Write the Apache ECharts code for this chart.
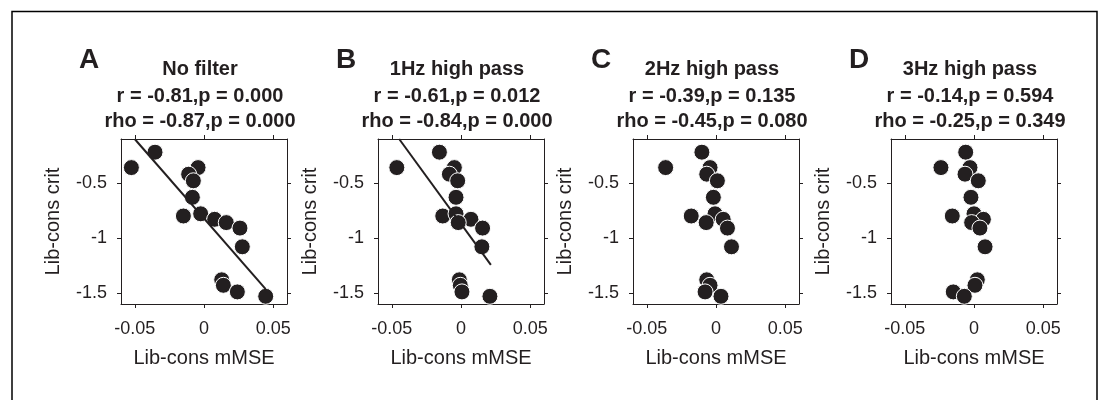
<!DOCTYPE html>
<html>
<head>
<meta charset="utf-8">
<script src="https://cdn.jsdelivr.net/npm/echarts@6/dist/echarts.min.js"></script>
<style>
html,body{margin:0;padding:0;background:#fff;}
#chart{width:1100px;height:400px;}
</style>
</head>
<body>
<div id="chart"></div>
<script>
// ---- data ----
const panelLetters = ['A', 'B', 'C', 'D'];
const panelTitles = ['No filter', '1Hz high pass', '2Hz high pass', '3Hz high pass'];
const rLines = ['r = -0.81,p = 0.000', 'r = -0.61,p = 0.012', 'r = -0.39,p = 0.135', 'r = -0.14,p = 0.594'];
const rhoLines = ['rho = -0.87,p = 0.000', 'rho = -0.84,p = 0.000', 'rho = -0.45,p = 0.080', 'rho = -0.25,p = 0.349'];
const xTicks = [-0.05, 0, 0.05];
const yTicks = [-1.5, -1, -0.5];
const xName = 'Lib-cons mMSE';
const yName = 'Lib-cons crit';

// Lib-cons crit (same subjects in every panel)
const libConsCrit = [-0.22, -0.36, -0.36, -0.42, -0.48, -0.63, -0.80, -0.78, -0.83, -0.86, -0.91, -1.08, -1.38, -1.43, -1.49, -1.53];
// Lib-cons mMSE per filter setting
const mmseNoFilter = [-0.0354, -0.0525, -0.0043, -0.0111, -0.0077, -0.0084, -0.0149, -0.0024, 0.0077, 0.0161, 0.0260, 0.0277, 0.0128, 0.0140, 0.0241, 0.0446];
const mmse1Hz = [-0.0156, -0.0464, -0.0048, -0.0084, -0.0024, -0.0036, -0.0132, -0.0036, 0.0072, -0.0020, 0.0156, 0.0151, -0.0012, -0.0005, 0.0007, 0.0209];
const mmse2Hz = [-0.0102, -0.0364, -0.0043, -0.0067, 0.0010, -0.0019, -0.0179, -0.0007, 0.0052, -0.0071, 0.0083, 0.0112, -0.0067, -0.0043, -0.0079, 0.0036];
const mmse3Hz = [-0.0060, -0.0239, -0.0029, -0.0065, 0.0031, -0.0022, -0.0157, 0.0000, 0.0068, -0.0017, 0.0043, 0.0080, 0.0024, 0.0007, -0.0150, -0.0070];
// least-squares lines as drawn (end points)
const fitNoFilter = [[-0.0501, -0.1], [0.0446, -1.464]];
const fit1Hz = [[-0.0447, -0.1], [0.0216, -1.244]];

const panelX = [mmseNoFilter, mmse1Hz, mmse2Hz, mmse3Hz];
const panelFit = [fitNoFilter, fit1Hz, null, null];

// ---- layout ----
const gridLefts = [121, 378, 633, 891];
const gridTop = 139, gridW = 166, gridH = 165;
const ink = '#231f20';
const font = 'Liberation Sans, Arial, Helvetica, sans-serif';

const grids = [], xAxes = [], yAxes = [], series = [], graphics = [];

gridLefts.forEach((left, i) => {
  grids.push({left: left, top: gridTop, width: gridW, height: gridH, show: true, backgroundColor: '#fff', borderWidth: 0});
  const axisBase = {min: -0.06, max: 0.06, gridIndex: i, splitLine: {show: false},
    axisLine: {show: true, onZero: false, lineStyle: {color: ink, width: 1}}};
  xAxes.push(Object.assign({}, axisBase, {
    type: 'value', position: 'bottom', name: xName, nameLocation: 'middle', nameGap: 44,
    nameTextStyle: {fontSize: 20, color: ink, fontFamily: font},
    axisTick: {show: true, length: 4, inside: false, customValues: xTicks, lineStyle: {color: ink}},
    axisLabel: {show: true, customValues: xTicks, margin: 16, fontSize: 18, color: ink, fontFamily: font,
      formatter: v => String(v)}
  }));
  xAxes.push(Object.assign({}, axisBase, {
    type: 'value', position: 'top',
    axisTick: {show: true, length: 4, inside: false, customValues: xTicks, lineStyle: {color: ink}},
    axisLabel: {show: false}
  }));
  const yBase = {min: -1.6, max: -0.1, gridIndex: i, splitLine: {show: false},
    axisLine: {show: true, onZero: false, lineStyle: {color: ink, width: 1}}};
  yAxes.push(Object.assign({}, yBase, {
    type: 'value', position: 'left', name: yName, nameLocation: 'middle', nameGap: 58, nameRotate: 90,
    nameTextStyle: {fontSize: 20, color: ink, fontFamily: font},
    axisTick: {show: true, length: 4, inside: false, customValues: yTicks, lineStyle: {color: ink}},
    axisLabel: {show: true, customValues: yTicks, margin: 14, fontSize: 18, color: ink, fontFamily: font,
      formatter: v => String(v)}
  }));
  yAxes.push(Object.assign({}, yBase, {
    type: 'value', position: 'right',
    axisTick: {show: true, length: 4, inside: false, customValues: yTicks, lineStyle: {color: ink}},
    axisLabel: {show: false}
  }));

  const pts = panelX[i].map((x, k) => [x, libConsCrit[k]]);
  series.push({
    type: 'scatter', xAxisIndex: 2 * i, yAxisIndex: 2 * i, data: pts,
    symbol: 'circle', symbolSize: 16,
    itemStyle: {color: ink, borderColor: '#fff', borderWidth: 1, opacity: 1},
    silent: true, z: 3
  });
  if (panelFit[i]) {
    series.push({
      type: 'line', xAxisIndex: 2 * i, yAxisIndex: 2 * i, data: panelFit[i],
      symbol: 'none', lineStyle: {color: ink, width: 2}, silent: true, z: 4, clip: true
    });
  }

  const cx = left + gridW / 2 - 4;
  const titleTexts = [panelTitles[i], rLines[i], rhoLines[i]];
  const titleY = [69, 96, 121];
  titleTexts.forEach((t, j) => {
    graphics.push({type: 'text', x: cx, y: titleY[j], silent: true,
      style: {text: t, fill: ink, font: 'bold 20px ' + font, textAlign: 'center', textVerticalAlign: 'middle'}});
  });
  graphics.push({type: 'text', x: left - 32, y: 60, silent: true,
    style: {text: panelLetters[i], fill: ink, font: 'bold 28px ' + font, textAlign: 'center', textVerticalAlign: 'middle'}});
});

graphics.push({type: 'rect', silent: true, shape: {x: 12, y: 11.5, width: 1085, height: 420},
  style: {fill: 'none', stroke: '#000', lineWidth: 1.5}});

const chart = echarts.init(document.getElementById('chart'), null, {renderer: 'canvas'});
chart.setOption({
  backgroundColor: '#fff',
  animation: false,
  grid: grids,
  xAxis: xAxes,
  yAxis: yAxes,
  series: series,
  graphic: graphics
});
</script>
</body>
</html>
